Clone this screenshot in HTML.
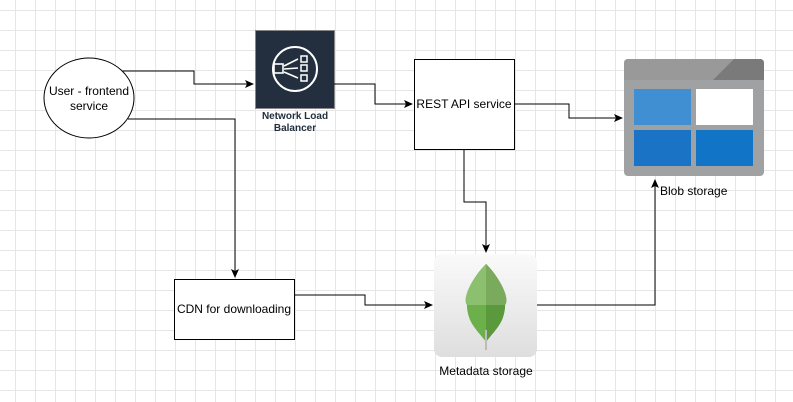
<!DOCTYPE html>
<html><head><meta charset="utf-8"><style>
html,body{margin:0;padding:0}
body{width:793px;height:402px;overflow:hidden;background:#fff;
background-image:linear-gradient(to right,#e6e6e6 1px,transparent 1px),linear-gradient(to bottom,#e6e6e6 1px,transparent 1px);
background-size:20px 20px;background-position:15px 10px;font-family:"Liberation Sans",sans-serif;position:relative}
.t{position:absolute;font-size:12px;color:#000;text-align:center;white-space:nowrap}
</style></head><body>
<svg width="793" height="402" style="position:absolute;left:0;top:0">
<defs><marker id="a" markerWidth="10" markerHeight="10" refX="8" refY="5" orient="auto" markerUnits="userSpaceOnUse"><path d="M0,1 L9,5 L0,9 L2,5 Z" fill="#000"/></marker></defs>
<ellipse cx="89" cy="98" rx="45" ry="40" fill="#fff" stroke="#000" stroke-width="1"/>
<rect x="255.5" y="30.5" width="79" height="78" fill="#232f3e" stroke="#888"/>
<circle cx="295" cy="69" r="22" fill="none" stroke="#fff" stroke-width="2"/>
<rect x="274" y="64" width="9" height="9" fill="none" stroke="#fff" stroke-width="1.6"/>
<rect x="301" y="56" width="6" height="6" fill="none" stroke="#fff" stroke-width="1.5"/>
<rect x="301" y="65" width="6" height="6" fill="none" stroke="#fff" stroke-width="1.5"/>
<rect x="301" y="75" width="6" height="6" fill="none" stroke="#fff" stroke-width="1.5"/>
<path d="M284,66 L298,59 M284,69 L298,68 M284,72 L298,78" stroke="#fff" stroke-width="1.6"/>
<rect x="414.5" y="59.5" width="100" height="90" fill="#fff" stroke="#000"/>
<rect x="174.5" y="279.5" width="120" height="60" fill="#fff" stroke="#000"/>
<rect x="624" y="59" width="140" height="117" rx="4" fill="#a0a1a2"/>
<path d="M628,59 H760 A4,4 0 0 1 764,63 V80 H624 V63 A4,4 0 0 1 628,59Z" fill="#999"/>
<path d="M734,59 H760 A4,4 0 0 1 764,63 V80 H713Z" fill="#7a7a7a"/>
<rect x="634" y="89" width="57" height="36" fill="#3f8fd2"/>
<rect x="696" y="89" width="57" height="36" fill="#fff"/>
<rect x="634" y="130" width="57" height="36" fill="#1a73c4"/>
<rect x="696" y="130" width="57" height="36" fill="#1174c6"/>
<defs><linearGradient id="g" x1="0" y1="0" x2="0" y2="1"><stop offset="0" stop-color="#fafafa"/><stop offset="1" stop-color="#dedede"/></linearGradient></defs>
<rect x="434" y="254" width="103" height="103" rx="8" fill="url(#g)"/>
<path d="M486,264 C470,280 462,300 470,320 C475,330 482,336 486,342 C490,336 497,330 502,320 C510,300 502,280 486,264Z" fill="#6bb04a"/>
<path d="M486,264 C502,280 510,300 502,320 C497,330 490,336 486,342Z" fill="#5a9a3d"/>
<path d="M486,264 C470,280 462,300 467,305 H486Z" fill="#8cc06e"/>
<path d="M486,264 C502,280 510,300 505,305 H486Z" fill="#7aaa5c"/>
<line x1="486" y1="330" x2="486" y2="350" stroke="#bbb" stroke-width="2"/>
<g fill="none" stroke="#000" stroke-width="1">
<path d="M122,71 H194 V84 H253" marker-end="url(#a)"/>
<path d="M334,84 H375 V104 H412" marker-end="url(#a)"/>
<path d="M514,104 H569 V118 H622" marker-end="url(#a)"/>
<path d="M464,149 V202 H486 V252" marker-end="url(#a)"/>
<path d="M537,305 H655 V180" marker-end="url(#a)"/>
<path d="M128,119 H235 V277" marker-end="url(#a)"/>
<path d="M295,295 H365 V305 H432" marker-end="url(#a)"/>
</g>
</svg>
<div class="t" style="left:44px;top:84px;width:90px;line-height:15px">User - frontend<br>service</div>
<div class="t" style="left:245px;top:111px;width:100px;font-size:10px;font-weight:bold;line-height:12px;color:#232f3e">Network Load<br>Balancer</div>
<div class="t" style="left:414px;top:97px;width:100px">REST API service</div>
<div class="t" style="left:174px;top:302px;width:120px">CDN for downloading</div>
<div class="t" style="left:660px;top:184px;text-align:left">Blob storage</div>
<div class="t" style="left:426px;top:364px;width:120px">Metadata storage</div>
</body></html>
